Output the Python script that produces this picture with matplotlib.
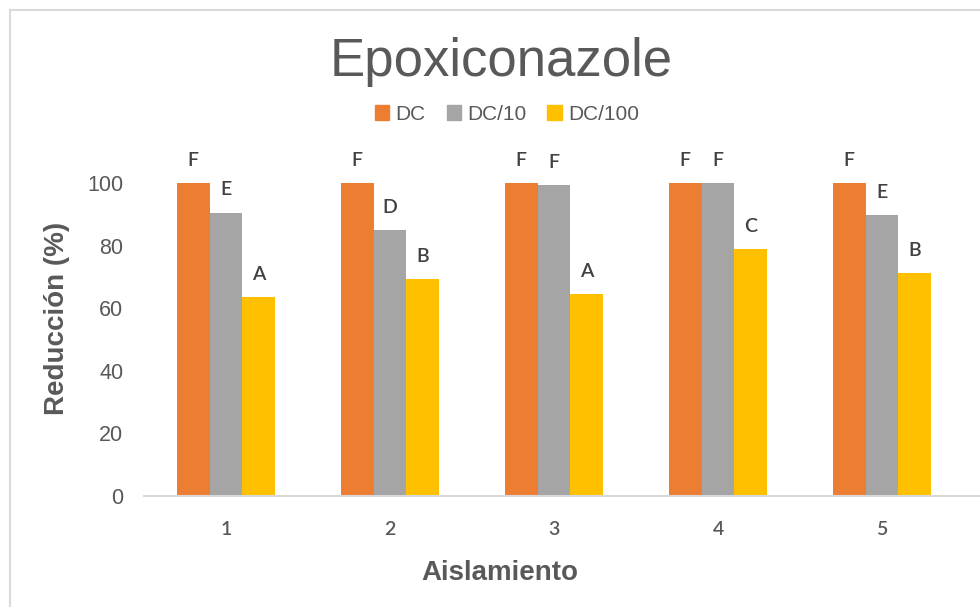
import numpy as np
import matplotlib
matplotlib.use("Agg")
import matplotlib.pyplot as plt
from matplotlib.lines import Line2D
from matplotlib.patches import Patch

# data
aislamientos = ["1", "2", "3", "4", "5"]
series_names = ["DC", "DC/10", "DC/100"]
dc = [100, 100, 100, 100, 100]
dc_10 = [90.5, 84.9, 99.4, 100, 89.8]
dc_100 = [63.5, 69.2, 64.4, 78.8, 71.2]
letras_dc = ["F", "F", "F", "F", "F"]
letras_dc_10 = ["E", "D", "F", "F", "E"]
letras_dc_100 = ["A", "B", "A", "C", "B"]
yticks = [0, 20, 40, 60, 80, 100]

colors = ["#ED7D31", "#A5A5A5", "#FFC000"]
text_gray = "#595959"
W, H = 980, 607

fig = plt.figure(figsize=(9.8, 6.07), dpi=100)
ax = fig.add_axes([144 / W, 1 - 496 / H, 836 / W, (496 - 183) / H])

x = np.arange(len(aislamientos))
width = 0.2
valores = [dc, dc_10, dc_100]
letras = [letras_dc, letras_dc_10, letras_dc_100]
for k in range(3):
    pos = x + (k - 1) * width
    ax.bar(pos, valores[k], width, color=colors[k], label=series_names[k])
    for xi, yi, lt in zip(pos, valores[k], letras[k]):
        ax.annotate(lt, (xi, yi), xytext=(0, 12.5), textcoords="offset points",
                    ha="center", va="baseline", fontsize=14, family="Lato",
                    weight="semibold", color="#404040", annotation_clip=False)

ax.set_xlim(-0.5, (980 - 226) / 164)
ax.set_ylim(0, 100)
ax.set_xticks(x)
ax.set_xticklabels(aislamientos, family="Lato", fontsize=14, weight="semibold",
                   color=text_gray)
ax.set_yticks(yticks)
ax.set_yticklabels([str(v) for v in yticks], family="Liberation Sans",
                   fontsize=15.5, color=text_gray)
ax.tick_params(axis="x", length=0, pad=18)
ax.tick_params(axis="y", length=0, pad=15)
for s in ["top", "right", "left"]:
    ax.spines[s].set_visible(False)
ax.spines["bottom"].set_color("#D9D9D9")
ax.spines["bottom"].set_linewidth(1.5)

# titles
fig.text(501 / W, 1 - 62 / H, "Epoxiconazole", ha="center", va="center",
         fontsize=38, family="Liberation Sans", color=text_gray)
fig.text(500 / W, 1 - 573 / H, "Aislamiento", ha="center", va="center",
         fontsize=20, family="Liberation Sans", weight="bold", color=text_gray)
fig.text(57 / W, 1 - 318 / H, "Reducción (%)", ha="center", va="center",
         rotation=90, fontsize=20, family="Liberation Sans", weight="bold",
         color=text_gray)

handles = [Patch(color=c) for c in colors]
fig.legend(handles, series_names, loc="center", bbox_to_anchor=(507 / W, 1 - 114 / H),
           ncol=3, frameon=False, handlelength=0.7, handleheight=0.7,
           handletextpad=0.3, columnspacing=1.0,
           prop={"family": "Liberation Sans", "size": 15}, labelcolor=text_gray)

# chart border
fig.add_artist(Line2D([10 / W, 10 / W], [0, 1 - 10 / H], color="#D9D9D9", lw=1.5))
fig.add_artist(Line2D([10 / W, 1], [1 - 10 / H, 1 - 10 / H], color="#D9D9D9", lw=1.5))

fig.savefig("out.png", dpi=100, facecolor="white")
